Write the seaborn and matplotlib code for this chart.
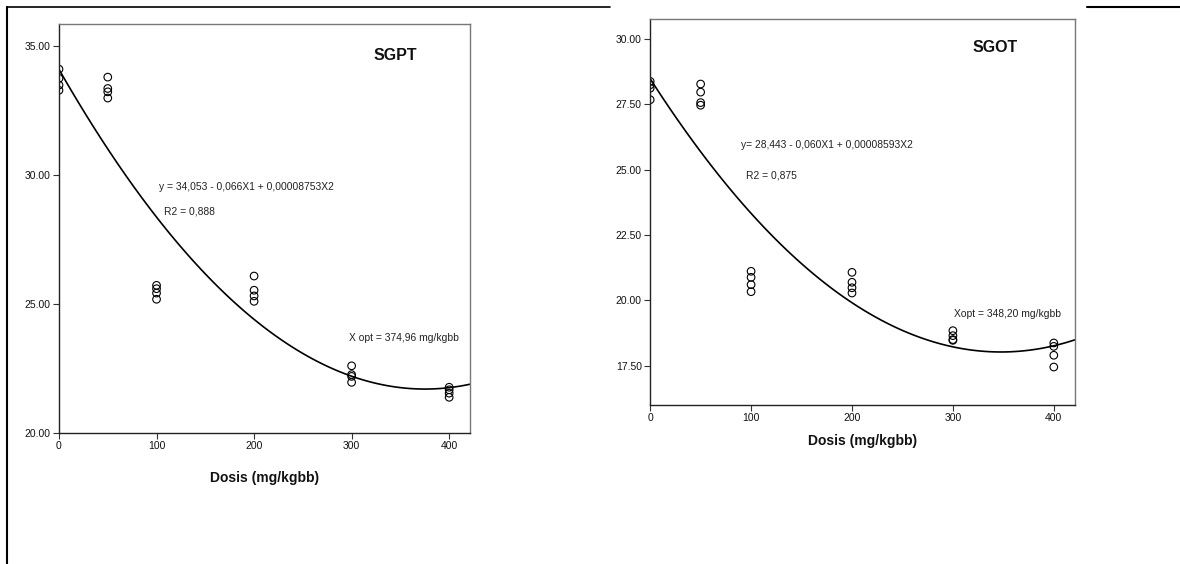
import matplotlib
matplotlib.use("Agg")
import matplotlib.pyplot as plt
from matplotlib.lines import Line2D
import numpy as np
import pandas as pd
import seaborn as sns

sns.set_style("ticks")
plt.rcParams['font.family'] = ['Liberation Sans', 'DejaVu Sans']

# ─── DATA ─────────────────────────────────────────────────────────────────────
DOSE = [0, 0, 0, 0,
        50, 50, 50, 50,
        100, 100, 100, 100,
        200, 200, 200, 200,
        300, 300, 300, 300,
        400, 400, 400, 400]
SGPT = [34.11, 33.75, 33.49, 33.29,
        33.80, 33.36, 33.23, 32.99,
        25.73, 25.60, 25.43, 25.19,
        26.09, 25.54, 25.32, 25.11,
        22.61, 22.27, 22.20, 21.97,
        21.78, 21.68, 21.55, 21.39]
SGOT = [28.37, 28.24, 28.11, 27.67,
        28.27, 27.96, 27.56, 27.46,
        21.11, 20.88, 20.60, 20.33,
        21.07, 20.69, 20.48, 20.28,
        18.84, 18.65, 18.50, 18.47,
        18.37, 18.24, 17.90, 17.45]
X_TICKS = [0, 100, 200, 300, 400]
SGPT_TICKS = [20, 25, 30, 35]
SGOT_TICKS = [17.5, 20, 22.5, 25, 27.5, 30]

df = pd.DataFrame({"dose": DOSE, "sgpt": SGPT, "sgot": SGOT})

fig = plt.figure(figsize=(11.8, 5.64), dpi=100)
ax1 = fig.add_axes([0.050, 0.232, 0.348, 0.725])
ax2 = fig.add_axes([0.551, 0.282, 0.360, 0.684])

scat = dict(facecolors='none', edgecolors='black', s=30, linewidths=0.8, alpha=1)
line = dict(color='black', lw=1.2)


def panel(ax, col, ylim, yticks, title, title_xy, eq, eq_xy, r2, r2_xy, opt, opt_xy, label_pad):
    ax.set_xlim(0, 421)
    ax.set_ylim(*ylim)
    sns.regplot(data=df, x="dose", y=col, order=2, ci=None, truncate=False,
                scatter_kws=scat, line_kws=line, ax=ax)
    ax.set_xlim(0, 421)
    ax.set_ylim(*ylim)
    ax.set_xticks(X_TICKS)
    ax.set_yticks(yticks)
    ax.set_yticklabels([f"{v:.2f}" for v in yticks])
    ax.tick_params(labelsize=7.5, length=4, width=0.8, color='#333333',
                   labelcolor='#111111', pad=2)
    ax.set_ylabel("")
    ax.set_xlabel("Dosis (mg/kgbb)", fontsize=10, fontweight='bold',
                  labelpad=label_pad, color='#111111')
    for s in ["left", "bottom"]:
        ax.spines[s].set_color('#222222')
        ax.spines[s].set_linewidth(1.0)
    for s in ["top", "right"]:
        ax.spines[s].set_visible(True)
        ax.spines[s].set_color('#777777')
        ax.spines[s].set_linewidth(1.0)
    ax.text(*title_xy, title, fontsize=11.5, fontweight='bold', va='center', ha='left', color='#111111')
    ax.text(*eq_xy, eq, fontsize=7.4, va='center', ha='left', color='#222222')
    ax.text(*r2_xy, r2, fontsize=7.4, va='center', ha='left', color='#222222')
    ax.text(*opt_xy, opt, fontsize=7.4, va='center', ha='left', color='#222222')


panel(ax1, "sgpt", (20, 35.85), SGPT_TICKS, "SGPT", (322, 34.65),
      "y = 34,053 - 0,066X1 + 0,00008753X2", (102.6, 29.53),
      "R2 = 0,888", (107.7, 28.6),
      "X opt = 374,96 mg/kgbb", (297.4, 23.68), label_pad=14)

panel(ax2, "sgot", (16.0, 30.75), SGOT_TICKS, "SGOT", (319.5, 29.66),
      "y= 28,443 - 0,060X1 + 0,00008593X2", (90.5, 25.93),
      "R2 = 0,875", (95.4, 24.78),
      "Xopt = 348,20 mg/kgbb", (301, 19.49), label_pad=8)

# table frame lines around the figures
H, W = 564.0, 1180.0
fig.add_artist(Line2D([7 / W, 7 / W], [0, 1 - 7 / H], color='black', lw=1.5))
fig.add_artist(Line2D([7 / W, 610 / W], [1 - 7 / H, 1 - 7 / H], color='black', lw=1.2))
fig.add_artist(Line2D([1087 / W, 1], [1 - 7 / H, 1 - 7 / H], color='black', lw=1.5))

fig.savefig("out.png", dpi=100)
